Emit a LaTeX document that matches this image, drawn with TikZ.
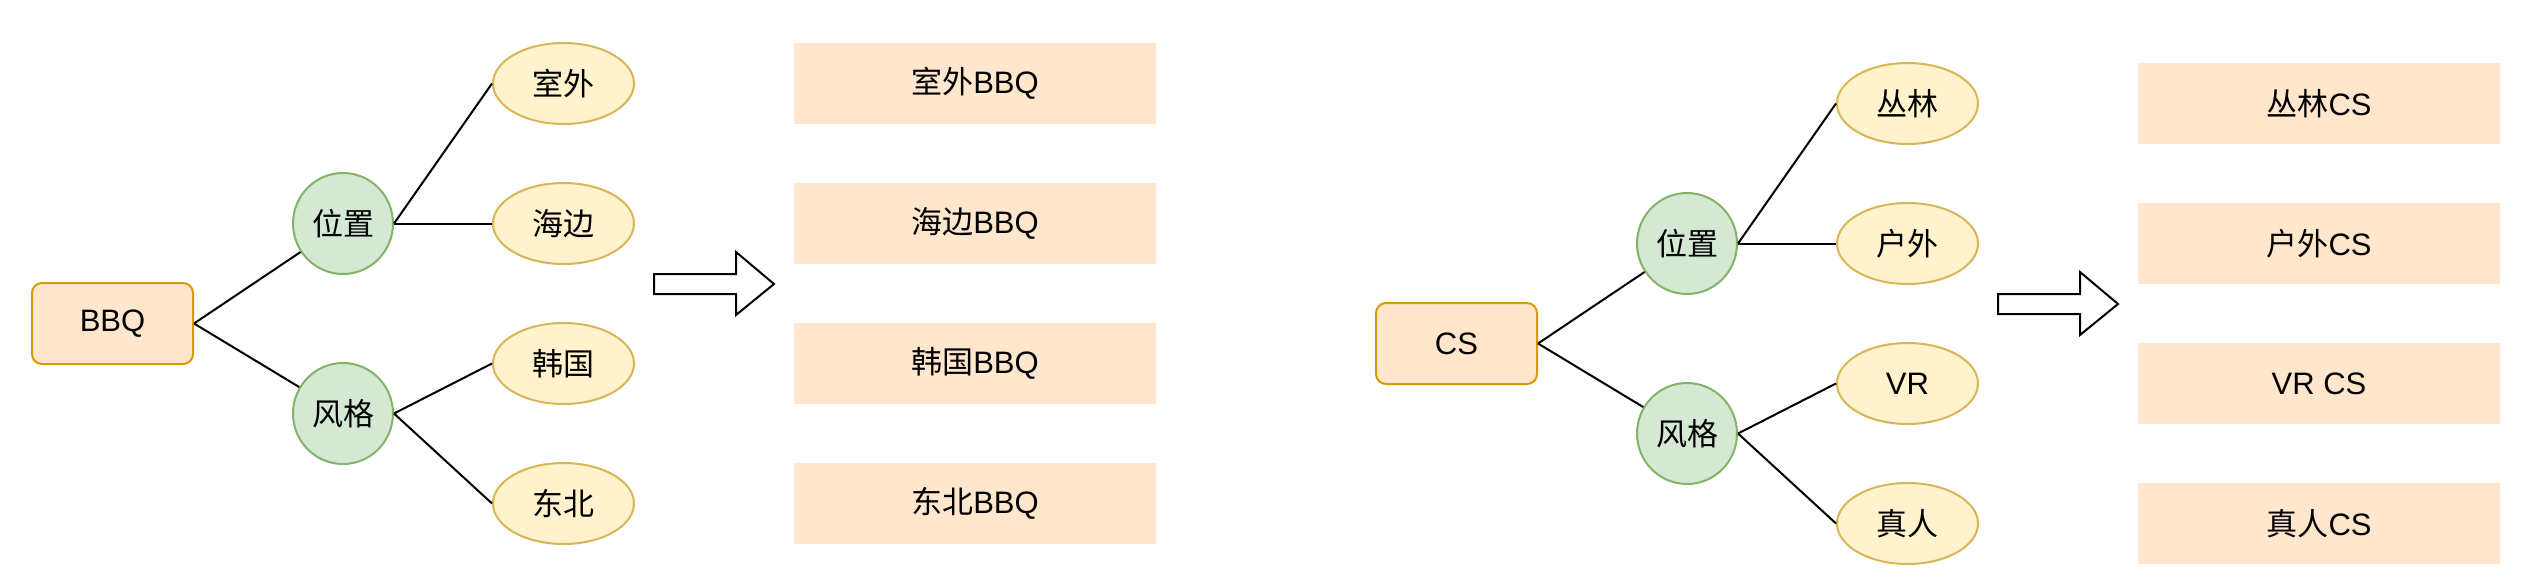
\documentclass[tikz,border=0pt]{standalone}
\usepackage{fontspec}
\setmainfont{Liberation Sans}
\newfontfamily\cjk{Noto Sans CJK SC}
\usetikzlibrary{shapes.geometric}
\definecolor{rootfill}{HTML}{FFE6CC}
\definecolor{rootdraw}{HTML}{D79B00}
\definecolor{greenfill}{HTML}{D5E8D4}
\definecolor{greendraw}{HTML}{82B366}
\definecolor{yelfill}{HTML}{FFF2CC}
\definecolor{yeldraw}{HTML}{D6B656}
\tikzset{
  txt/.style={font=\fontsize{31}{37}\selectfont, text=black, inner sep=0pt},
  rootbox/.style={txt, draw=rootdraw, fill=rootfill, line width=2pt, rounded corners=10pt, minimum width=161pt, minimum height=81pt},
  catnode/.style={txt, ellipse, draw=greendraw, fill=greenfill, line width=2pt, minimum width=100pt, minimum height=101pt},
  leafnode/.style={txt, ellipse, draw=yeldraw, fill=yelfill, line width=2pt, minimum width=141pt, minimum height=81pt},
  resbox/.style={txt, fill=rootfill, minimum width=362pt, minimum height=81pt},
  link/.style={draw=black, line width=2pt},
  bigarrow/.style={draw=black, fill=white, line width=2pt, line join=miter}
}
\begin{document}
\begin{tikzpicture}[x=1pt,y=-1pt]
\useasboundingbox (0,0) rectangle (2534,588);
% ---------- left tree ----------
\node[rootbox] (bbq) at (112.5,323.5) {BBQ};
\node[catnode] (pos1) at (343,223.5) {\cjk 位置};
\node[catnode] (sty1) at (343,413.5) {\cjk 风格};
\node[leafnode] (a1) at (563.5,83.5) {\cjk 室外};
\node[leafnode] (a2) at (563.5,223.5) {\cjk 海边};
\node[leafnode] (a3) at (563.5,363.5) {\cjk 韩国};
\node[leafnode] (a4) at (563.5,503.5) {\cjk 东北};
\draw[link] (bbq.east) -- (pos1);
\draw[link] (bbq.east) -- (sty1);
\draw[link] (pos1.east) -- (a1.west);
\draw[link] (pos1.east) -- (a2.west);
\draw[link] (sty1.east) -- (a3.west);
\draw[link] (sty1.east) -- (a4.west);
\coordinate (arrL) at (654,284);
\draw[bigarrow] (arrL) ++(0,-10) -- ++(82,0) -- ++(0,-22) -- ++(38,32) -- ++(-38,31) -- ++(0,-21) -- ++(-82,0) -- cycle;
\node[resbox] (r1) at (975,83.5) {{\cjk 室外}BBQ};
\node[resbox] (r2) at (975,223.5) {{\cjk 海边}BBQ};
\node[resbox] (r3) at (975,363.5) {{\cjk 韩国}BBQ};
\node[resbox] (r4) at (975,503.5) {{\cjk 东北}BBQ};
% ---------- right tree ----------
\node[rootbox] (cs) at (1456.5,343.5) {CS};
\node[catnode] (pos2) at (1687,243.5) {\cjk 位置};
\node[catnode] (sty2) at (1687,433.5) {\cjk 风格};
\node[leafnode] (b1) at (1907.5,103.5) {\cjk 丛林};
\node[leafnode] (b2) at (1907.5,243.5) {\cjk 户外};
\node[leafnode] (b3) at (1907.5,383.5) {VR};
\node[leafnode] (b4) at (1907.5,523.5) {\cjk 真人};
\draw[link] (cs.east) -- (pos2);
\draw[link] (cs.east) -- (sty2);
\draw[link] (pos2.east) -- (b1.west);
\draw[link] (pos2.east) -- (b2.west);
\draw[link] (sty2.east) -- (b3.west);
\draw[link] (sty2.east) -- (b4.west);
\coordinate (arrR) at (1998,304);
\draw[bigarrow] (arrR) ++(0,-10) -- ++(82,0) -- ++(0,-22) -- ++(38,32) -- ++(-38,31) -- ++(0,-21) -- ++(-82,0) -- cycle;
\node[resbox] (s1) at (2319,103.5) {{\cjk 丛林}CS};
\node[resbox] (s2) at (2319,243.5) {{\cjk 户外}CS};
\node[resbox] (s3) at (2319,383.5) {VR CS};
\node[resbox] (s4) at (2319,523.5) {{\cjk 真人}CS};
\end{tikzpicture}
\end{document}
